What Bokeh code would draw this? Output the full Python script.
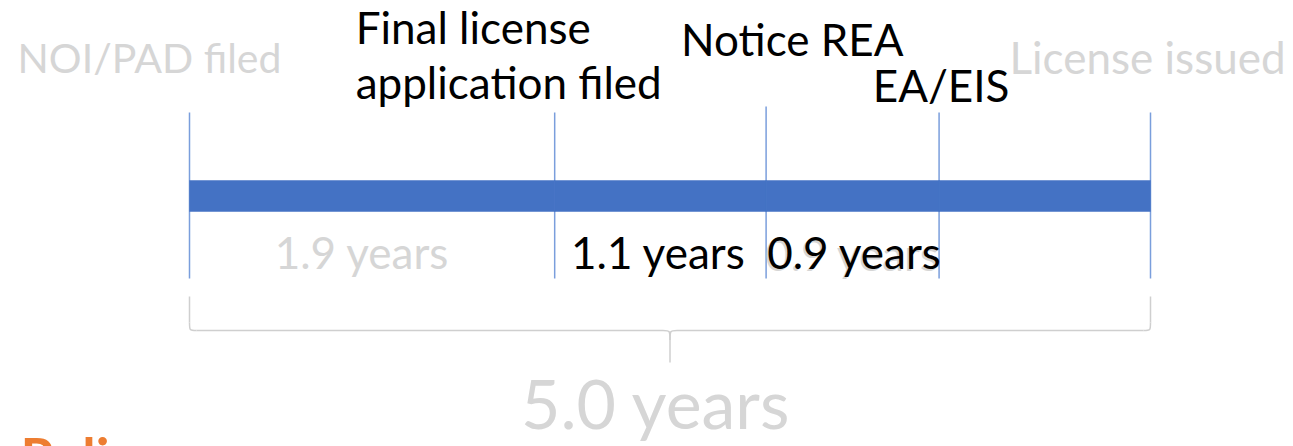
import numpy as np
from bokeh.plotting import figure
from bokeh.models import Range1d
from bokeh.core.properties import value
from bokeh.embed import file_html
from bokeh.resources import INLINE

# ---------------- data ----------------
milestones = ["NOI/PAD filed", "Final license\napplication filed", "Notice REA", "EA/EIS", "License issued"]
segment_years = [1.9, 1.1, 0.9, 1.1]
segment_labels = ["1.9 years", "1.1 years", "0.9 years", ""]
total_label = "5.0 years"
footer_text = "Reli"

cum = np.concatenate([[0.0], np.cumsum(segment_years)])
total = float(cum[-1])

# ---------------- layout / style ----------------
W, H = 1293, 446
PX_PER_YEAR = 192.2
X0 = 189  # pixel of year 0
FONT = value("Lato")
GRAY = "#d6d6d6"
BLUE = "#4472c4"
LINE_BLUE = "#7a9edc"
BRACE = "#cfcfcf"
SHIFT = 0.43  # baseline correction (em)


def base(y, fs):
    return y - SHIFT * fs


p = figure(width=W, height=H, output_backend="svg", toolbar_location=None,
           x_range=Range1d(-X0 / PX_PER_YEAR, (W - X0) / PX_PER_YEAR),
           y_range=Range1d(H, 0),
           x_axis_location=None, y_axis_location=None,
           min_border=0, outline_line_color=None)
p.xgrid.visible = False
p.ygrid.visible = False
p.background_fill_color = "white"

# vertical milestone lines
tops = [112, 112, 106, 112, 112]
p.segment(x0=cum, y0=tops, x1=cum, y1=[278] * len(cum), line_color=LINE_BLUE, line_width=1.5)

# main bar
p.hbar(y=[195.5] * len(segment_years), height=31, left=cum[:-1], right=cum[1:],
       fill_color=BLUE, line_color=BLUE, line_width=0.5)

# milestone labels
m_colors = [GRAY, "black", "black", "black", GRAY]
m_align = ["center", "left", "left", "center", "center"]
m_dx = [-40, -199, -85, 2, -3]
m_base = [75, 45, 57, 103, 75]
m_fs = [41, 44, 44, 44, 44]
for i, lab in enumerate(milestones):
    for j, line in enumerate(lab.split("\n")):
        p.text(x=[cum[i]], y=[base(m_base[i] + 55 * j, m_fs[i])], text=[line], x_offset=m_dx[i],
               text_align=m_align[i], text_baseline="alphabetic",
               text_font=FONT, text_font_size=f"{m_fs[i]}px", text_color=m_colors[i])

# segment labels
mids = (cum[:-1] + cum[1:]) / 2
s_colors = [GRAY, "black", "black", "black"]
s_dx = [-10, -2, 2, 0]
# faint shadow copy behind the 0.9 label
p.text(x=[mids[2]], y=[base(272, 44)], text=[segment_labels[2]], x_offset=s_dx[2] - 2,
       text_align="center", text_baseline="alphabetic",
       text_font=FONT, text_font_size="44px", text_color=GRAY)
for i, lab in enumerate(segment_labels):
    if not lab:
        continue
    p.text(x=[mids[i]], y=[base(270, 44)], text=[lab], x_offset=s_dx[i],
           text_align="center", text_baseline="alphabetic",
           text_font=FONT, text_font_size="44px", text_color=s_colors[i])

# brace under the timeline
mid = total / 2
r = 7 / PX_PER_YEAR
yt, yh, yb = 296, 330, 362
for xe, sgn in [(0.0, 1), (total, -1)]:
    p.line([xe, xe], [yt, yh - 8], line_color=BRACE, line_width=1.5)
    p.bezier(x0=[xe], y0=[yh - 8], x1=[xe + sgn * r], y1=[yh], cx0=[xe], cy0=[yh],
             cx1=[xe], cy1=[yh], line_color=BRACE, line_width=1.5)
    p.line([xe + sgn * r, mid - sgn * r], [yh, yh], line_color=BRACE, line_width=1.5)
    p.bezier(x0=[mid - sgn * r], y0=[yh], x1=[mid], y1=[yh + 10], cx0=[mid], cy0=[yh],
             cx1=[mid], cy1=[yh], line_color=BRACE, line_width=1.5)
p.line([mid, mid], [yh + 10, yb], line_color=BRACE, line_width=1.5)

# total label
p.text(x=[mid], y=[base(431, 68)], text=[total_label], x_offset=-14,
       text_align="center", text_baseline="alphabetic",
       text_font=FONT, text_font_size="68px", text_color=GRAY)

# clipped orange footer heading
p.text(x=[cum[0]], y=[base(479, 54)], text=[footer_text], x_offset=-169,
       text_align="left", text_baseline="alphabetic",
       text_font=FONT, text_font_size="54px", text_font_style="bold", text_color="#ed7d31")

open("out.html", "w").write(file_html(p, INLINE))
